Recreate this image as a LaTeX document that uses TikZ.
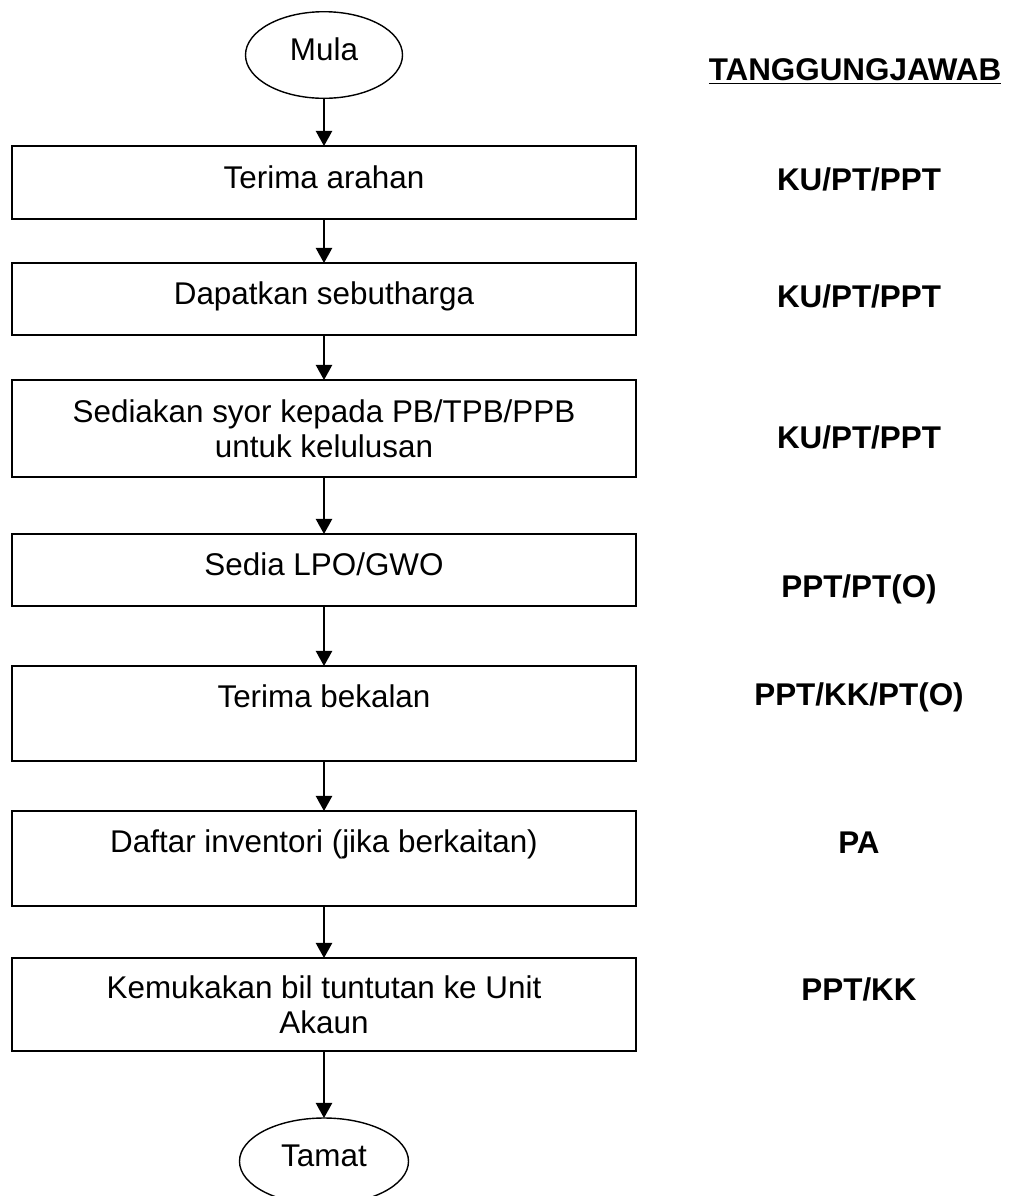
\documentclass[tikz,border=0pt]{standalone}
\usepackage{fontspec}
\setmainfont{Liberation Sans}
\usetikzlibrary{positioning,shapes.geometric,arrows.meta}

\begin{document}
\begin{tikzpicture}[
    x=0.5pt, y=-0.5pt, outer sep=0pt,
    font=\fontsize{15.7pt}{17.6pt}\selectfont,
    box/.style={draw, line width=0.9pt, minimum width=312pt, minimum height=#1,
                align=center, inner sep=2pt},
    box/.default=36pt,
    oneline/.style={text depth=5.5pt},
    term/.style={ellipse, draw, line width=0.7pt, inner sep=0pt, minimum height=43.3pt, text depth=6pt},
    arr/.style={line width=0.8pt, -{Triangle[width=8.2pt,length=7.6pt]}},
    resp/.style={font=\fontsize{15.7pt}{17.6pt}\selectfont\bfseries, anchor=base},]

    \useasboundingbox (0,0) rectangle (1017,1196);

    \node [term, minimum width=78.5pt] (Mula) at (324,55) {Mula};
    \node [box=36.5pt, oneline, below=23.85pt of Mula] (Arahan) {Terima arahan};
    \node [box, oneline, below=22pt of Arahan] (Harga) {Dapatkan sebutharga};
    \node [box=48.5pt, below=22.5pt of Harga] (Syor) {Sediakan syor kepada PB/TPB/PPB\\untuk kelulusan};
    \node [box, oneline, below=28.5pt of Syor] (LPO) {Sedia LPO/GWO};
    \node [box=47.5pt, below=30pt of LPO] (Bekal) {Terima bekalan\\~};
    \node [box=47.5pt, below=25pt of Bekal] (Inven) {Daftar inventori (jika berkaitan)\\~};
    \node [box=46.5pt, below=26pt of Inven] (Tuntut) {Kemukakan bil tuntutan ke Unit\\Akaun};
    \node [term, minimum width=84.5pt, below=33.5pt of Tuntut] (Tamat) {Tamat};

    \node [resp] (TJ) at (855,80) {\underline{TANGGUNGJAWAB}};
    \node [resp] (KUa) at (859,190) {KU/PT/PPT};
    \node [resp] (KUb) at (859,307) {KU/PT/PPT};
    \node [resp] (KUc) at (859,448) {KU/PT/PPT};
    \node [resp] (PPTa) at (859,597) {PPT/PT(O)};
    \node [resp] (PPTb) at (859,705) {PPT/KK/PT(O)};
    \node [resp] (PA) at (859,853) {PA};
    \node [resp] (PPTc) at (859,1000) {PPT/KK};

    \draw [arr] (Mula) -- (Arahan);
    \draw [arr] (Arahan) -- (Harga);
    \draw [arr] (Harga) -- (Syor);
    \draw [arr] (Syor) -- (LPO);
    \draw [arr] (LPO) -- (Bekal);
    \draw [arr] (Bekal) -- (Inven);
    \draw [arr] (Inven) -- (Tuntut);
    \draw [arr] (Tuntut) -- (Tamat);

\end{tikzpicture}
\end{document}
